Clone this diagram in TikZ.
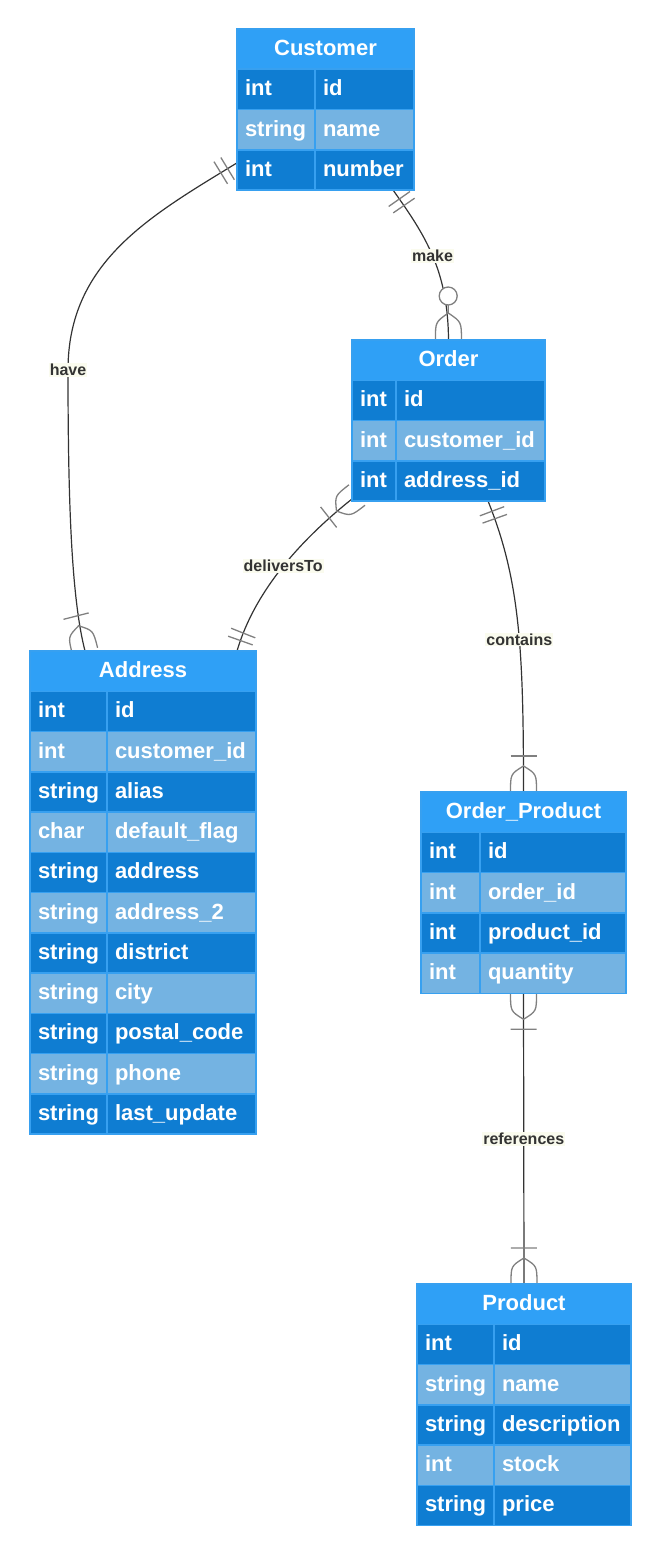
\documentclass[tikz,border=0pt]{standalone}
\usepackage{fontspec}
\setmainfont{Liberation Sans}
\usetikzlibrary{decorations.markings,backgrounds}

\definecolor{hdrblue}{RGB}{47,160,246}
\definecolor{rowdark}{RGB}{15,125,210}
\definecolor{rowlight}{RGB}{116,179,226}
\definecolor{cellline}{RGB}{55,160,240}
\definecolor{linkgray}{RGB}{51,51,51}
\definecolor{markgray}{RGB}{128,128,128}
\definecolor{lblback}{RGB}{250,251,238}

\tikzset{
  tblhead/.style={fill=hdrblue, draw=cellline, line width=1.5pt, text=white,
    font=\bfseries\fontsize{22}{26}\selectfont, minimum height=40.25pt,
    text height=17pt, text depth=4pt, inner sep=0pt, outer sep=0pt},
  tblcell/.style={draw=cellline, line width=1.5pt, text=white,
    font=\bfseries\fontsize{22}{26}\selectfont, minimum height=40.25pt,
    text height=17pt, text depth=4pt, inner xsep=8pt, inner ysep=0pt,
    outer sep=0pt, align=left},
  link/.style={draw=linkgray, line width=1.2pt},
  elabel/.style={fill=lblback, text=linkgray, inner sep=1pt,
    font=\bfseries\fontsize{16}{18}\selectfont},
  mk/.style={draw=markgray, line width=1.3pt},
  bars at start/.style={postaction={decorate, decoration={markings,
      mark=at position 11pt with {\draw[mk] (0pt,-13pt) -- (0pt,13pt);},
      mark=at position 19pt with {\draw[mk] (0pt,-13pt) -- (0pt,13pt);}}}},
  crow at start/.style={postaction={decorate, decoration={markings,
      mark=at position 0pt with {\draw[mk] (36pt,-13pt) -- (36pt,13pt);
        \draw[mk] (0pt,13pt) .. controls (18pt,13pt) .. (26pt,0pt)
          .. controls (18pt,-13pt) .. (0pt,-13pt);}}}},
  crow at end/.style={postaction={decorate, decoration={markings,
      mark=at position 1 with {\draw[mk] (-36pt,-13pt) -- (-36pt,13pt);
        \draw[mk] (0pt,13pt) .. controls (-18pt,13pt) .. (-26pt,0pt)
          .. controls (-18pt,-13pt) .. (0pt,-13pt);}}}},
  circ crow at end/.style={postaction={decorate, decoration={markings,
      mark=at position 1 with {
        \draw[mk] (0pt,13pt) .. controls (-18pt,13pt) .. (-27pt,0pt)
          .. controls (-18pt,-13pt) .. (0pt,-13pt);
        \draw[mk] (-27pt,0pt) -- (-35pt,0pt);
        \draw[mk, fill=white] (-44pt,0pt) circle[radius=9pt];}}}}
}

% #1 name, #2 left, #3 top, #4 type column, #5 field column, #6 title, #7 rows
\newcommand{\ertable}[7]{%
  \pgfmathsetmacro\hw{#4+#5}%
  \node[tblhead, minimum width=\hw pt, anchor=north west] (#1) at (#2,#3) {#6};
  \foreach \ty/\fd [count=\r] in {#7}{%
    \pgfmathsetmacro\yy{#3+40.25*\r}%
    \pgfmathsetmacro\twa{#4-16}%
    \pgfmathsetmacro\twb{#5-16}%
    \pgfmathtruncatemacro\odd{mod(\r,2)}%
    \ifnum\odd=1 \def\rowcol{rowdark}\else\def\rowcol{rowlight}\fi
    \node[tblcell, fill=\rowcol, minimum width=#4pt, text width=\twa pt,
      anchor=north west] (#1-t\r) at (#2,\yy) {\ty};
    \node[tblcell, fill=\rowcol, minimum width=#5pt, text width=\twb pt,
      anchor=north west] (#1-n\r) at (#1-t\r.north east) {\fd};
  }%
}

\begin{document}
\begin{tikzpicture}[x=1pt, y=-1pt]
  \useasboundingbox (0,0) rectangle (660,1555);

  % --- Entities ---
  \ertable{cust}{237}{29}{78}{99}{Customer}
    {int/id, string/name, int/number}
  \ertable{ord}{352}{340}{44}{149}{Order}
    {int/id, int/customer\_id, int/address\_id}
  \ertable{addr}{30}{651}{77}{149}{Address}
    {int/id, int/customer\_id, string/alias, char/default\_flag,
     string/address, string/address\_2, string/district, string/city,
     string/postal\_code, string/phone, string/last\_update}
  \ertable{op}{421}{792}{59}{146}{Order\_Product}
    {int/id, int/order\_id, int/product\_id, int/quantity}
  \ertable{prod}{417}{1284}{77}{137}{Product}
    {int/id, string/name, string/description, int/stock, string/price}

  % --- Relationships ---
  \begin{pgfonlayer}{background}
    \draw[link, bars at start, crow at end] ([yshift=7pt]cust-t3.west)
      .. controls (150,216) and (68,262) .. (68,370) node[elabel] (lhave) {have}
      .. controls (68,510) and (72,600) .. ([xshift=55pt]addr.north west);
    \draw[link, bars at start, circ crow at end] ([xshift=-21pt]cust-n3.south east)
      .. controls (425,235) and (448,270) .. (ord.north)
      node[elabel, midway] (lmake) {make};
    \draw[link, bars at start, crow at end] ([xshift=-19pt]addr.north east)
      .. controls (255,590) and (302,538) .. ([xshift=5pt,yshift=6pt]ord-t3.south west)
      node[elabel, midway] (ldeliv) {deliversTo};
    \draw[link, bars at start, crow at end] ([xshift=-57pt]ord-n3.south east)
      .. controls (520,580) and (523.5,650) .. (op.north)
      node[elabel, pos=0.56] (lcont) {contains};
    \draw[link, crow at start, crow at end] (op.north |- op-n4.south) -- (prod.north)
      node[elabel, midway] (lref) {references};
  \end{pgfonlayer}
\end{tikzpicture}
\end{document}
